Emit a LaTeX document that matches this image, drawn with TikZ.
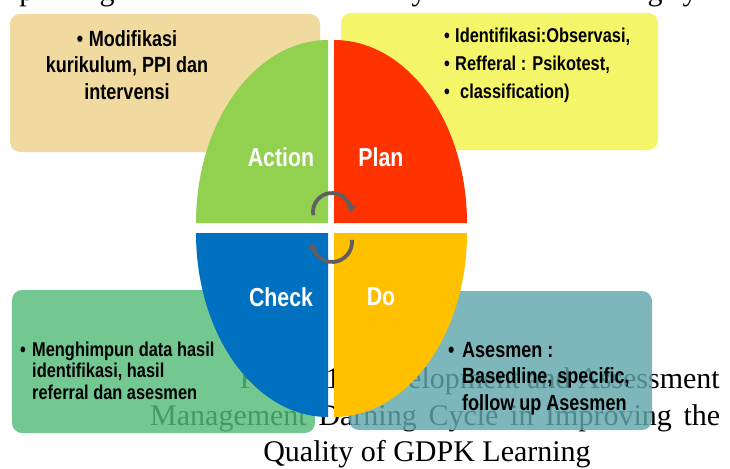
\documentclass[tikz,border=0pt]{standalone}
\usepackage{fontspec}
\setmainfont{Liberation Serif}
\newfontfamily\boxfont[FakeStretch=0.82]{Liberation Sans}
\usetikzlibrary{arrows.meta}

\definecolor{tanbox}{RGB}{237,210,139}
\definecolor{yelbox}{RGB}{243,243,72}
\definecolor{grnbox}{RGB}{84,188,121}
\definecolor{tealbox}{RGB}{96,167,173}
\definecolor{qgreen}{RGB}{146,208,80}
\definecolor{qred}{RGB}{255,51,0}
\definecolor{qblue}{RGB}{0,112,192}
\definecolor{qgold}{RGB}{255,192,0}
\definecolor{arrowgray}{RGB}{95,95,95}

\newcommand\bulletbox[1][11pt]{\makebox[#1][l]{•}}

\begin{document}
\begin{tikzpicture}[x=1pt,y=-1pt,
  infobox/.style={rounded corners=10pt, fill opacity=0.82},
  boxtext/.style={inner sep=0pt, text=black},
  qlabel/.style={inner sep=0pt, text=white, font=\boxfont\bfseries\fontsize{26}{30}\selectfont},
  cyc/.style={draw=arrowgray, line width=3.8pt, -{Triangle[length=7pt,width=10pt]}},
  captext/.style={inner sep=0pt, font=\fontsize{30}{36}\selectfont}]
\useasboundingbox (0,0) rectangle (730,468);
\clip (0,0) rectangle (730,468);

% tail of the text line above the figure
\node[captext, anchor=base] (tp1) at (27,1) {p};
\node[captext, anchor=base] (tg1) at (107,1) {g};
\node[captext, anchor=base] (ty1) at (419,1) {y};
\node[captext, anchor=base] (tg2) at (655,1) {g};
\node[captext, anchor=base] (ty2) at (690,1) {y};

% caption lines under the figure
\node[captext, anchor=base east] (cap1) at (720,388) {Figure 1. Development and Assessment};
\node[captext, anchor=base west] (cap2) at (150,425) {\makebox[570pt][s]{Management Darning Cycle in Improving the}};
\node[captext, anchor=base] (cap3) at (427,461) {Quality of GDPK Learning};

% text boxes
\fill[infobox, tanbox]  (10,14)  rectangle (320,152);
\fill[infobox, yelbox]  (341,13) rectangle (658,150);
\fill[infobox, grnbox]  (12,290) rectangle (315,433);
\fill[infobox, tealbox] (349,291) rectangle (652,430);

% exploded oval, four quarters
\fill[qgreen] (328,223) -- (196,223) arc[start angle=180, end angle=270, x radius=132, y radius=183] -- cycle;
\fill[qred]   (334,223) -- (334,40)  arc[start angle=270, end angle=360, x radius=133, y radius=183] -- cycle;
\fill[qgold]  (334,233) -- (467,233) arc[start angle=0,   end angle=90,  x radius=133, y radius=184] -- cycle;
\fill[qblue]  (328,233) -- (328,417) arc[start angle=90,  end angle=180, x radius=132, y radius=184] -- cycle;

% cycle arrows in the middle
\coordinate (ctop) at (332,212);
\coordinate (cbot) at (332,242);
\draw[cyc] (ctop) ++(170:19) arc[start angle=170, end angle=362, radius=19];
\draw[cyc] (cbot) ++(-6:20) arc[start angle=-6, end angle=178, radius=20];

% quarter labels
\node[qlabel] (action) at (281,157) {Action};
\node[qlabel] (plan)   at (381,157) {Plan};
\node[qlabel] (check)  at (281,297) {Check};
\node[qlabel] (do)     at (381,297) {Do};

% box contents (base anchor sits on the last line)
\node[boxtext, align=center, anchor=base, font=\boxfont\bfseries\fontsize{22}{27}\selectfont] (acttext) at (127,100)
  {\bulletbox[12pt]Modifikasi\\kurikulum, PPI dan\\intervensi};
\node[boxtext, align=left, anchor=base west, font=\boxfont\bfseries\fontsize{20}{28}\selectfont] (plantext) at (444,99)
  {\bulletbox Identifikasi:Observasi,\\\bulletbox Refferal : Psikotest,\\\bulletbox[16pt]classification)};
\node[boxtext, align=left, anchor=base west, font=\boxfont\bfseries\fontsize{20}{21.5}\selectfont] (chktext) at (20,399)
  {\bulletbox[12pt]Menghimpun data hasil\\\hspace*{12pt}identifikasi, hasil\\\hspace*{12pt}referral dan asesmen};
\node[boxtext, align=left, anchor=base west, font=\boxfont\bfseries\fontsize{22}{26.5}\selectfont] (dotext) at (448,410)
  {\bulletbox[14pt]Asesmen :\\\hspace*{14pt}Basedline, specific,\\\hspace*{14pt}follow up Asesmen};
\end{tikzpicture}
\end{document}
